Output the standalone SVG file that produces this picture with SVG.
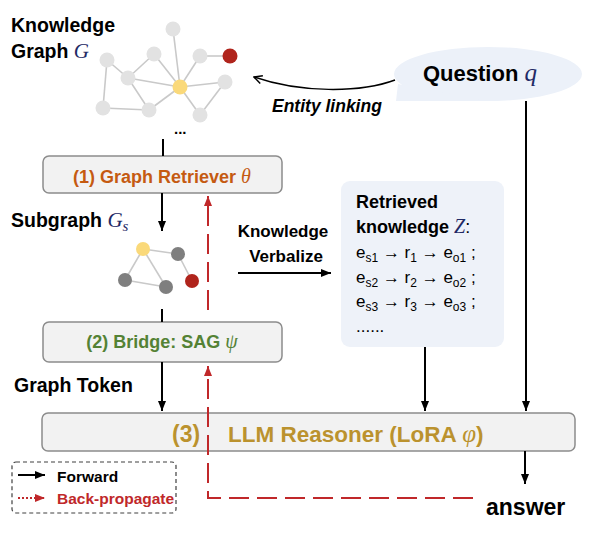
<svg xmlns="http://www.w3.org/2000/svg" width="590" height="544" viewBox="0 0 590 544">
<style>
.lbl{font-family:"Liberation Sans",Arial,sans-serif;font-weight:bold;fill:#000}
.math{font-family:"Liberation Serif","Times New Roman",serif;font-style:italic;font-weight:normal}
.box{fill:#f2f2f2;stroke:#8c8c8c;stroke-width:1.5}
.e{stroke:#c9c9c9;stroke-width:1.6;fill:none}
.ln{fill:#e2e2e2}
.gr{fill:#7f7f7f}
.yl{fill:#fad97a}
.rd{fill:#b0241c}
.fw{stroke:#000;stroke-width:2;fill:none}
.bp{stroke:#c0282a;stroke-width:2;fill:none;stroke-dasharray:20 8}
.reg{font-family:"Liberation Sans",Arial,sans-serif;font-size:17px;fill:#000}
</style>
<defs>
<marker id="ah" markerUnits="userSpaceOnUse" markerWidth="10" markerHeight="10" refX="10" refY="5" orient="auto"><path d="M0,1 L10,5 L0,9 z" fill="#000"/></marker>
<marker id="ahr" markerUnits="userSpaceOnUse" markerWidth="10" markerHeight="10" refX="10" refY="5" orient="auto"><path d="M0,1 L10,5 L0,9 z" fill="#c0282a"/></marker>
<marker id="open" markerUnits="userSpaceOnUse" markerWidth="10" markerHeight="10" refX="9" refY="5" orient="auto"><path d="M1,1 L9,5 L1,9" fill="none" stroke="#000" stroke-width="1.5"/></marker>
</defs>

<g id="kg">
<g class="e">
<line x1="173" y1="29" x2="180" y2="87"/>
<line x1="107" y1="60" x2="128" y2="78"/>
<line x1="107" y1="60" x2="103" y2="108"/>
<line x1="154" y1="54" x2="128" y2="78"/>
<line x1="154" y1="54" x2="180" y2="87"/>
<line x1="200" y1="56" x2="180" y2="87"/>
<line x1="200" y1="56" x2="230" y2="56"/>
<line x1="128" y1="78" x2="180" y2="87"/>
<line x1="128" y1="78" x2="149" y2="110"/>
<line x1="180" y1="87" x2="225" y2="82"/>
<line x1="180" y1="87" x2="149" y2="110"/>
<line x1="180" y1="87" x2="200" y2="115"/>
<line x1="103" y1="108" x2="149" y2="110"/>
<line x1="225" y1="82" x2="200" y2="115"/>
</g>
<circle class="ln" cx="173" cy="29" r="7.5"/>
<circle class="ln" cx="107" cy="60" r="7.5"/>
<circle class="ln" cx="154" cy="54" r="7.5"/>
<circle class="ln" cx="200" cy="56" r="7.5"/>
<circle class="rd" cx="230" cy="56" r="7.5"/>
<circle class="ln" cx="128" cy="78" r="7.5"/>
<circle class="yl" cx="180" cy="87" r="7.5"/>
<circle class="ln" cx="225" cy="82" r="7.5"/>
<circle class="ln" cx="103" cy="108" r="7.5"/>
<circle class="ln" cx="149" cy="110" r="7.5"/>
<circle class="ln" cx="200" cy="115" r="7.5"/>
<text class="lbl" x="174" y="134" font-size="15">...</text>
<text class="lbl" x="11" y="32" font-size="19.5">Knowledge</text>
<text class="lbl" x="11" y="58" font-size="19.5">Graph <tspan class="math" fill="#1f2a66" font-size="21">G</tspan></text>
</g>

<g id="question">
<ellipse cx="488" cy="74" rx="94" ry="27" fill="#ecf1f9"/>
<path d="M398,84 L396,101 L488,101 Z" fill="#ecf1f9"/>
<text class="lbl" x="423" y="81" font-size="22">Question <tspan class="math" fill="#1f2a66" font-size="25">q</tspan></text>
</g>

<g id="retriever">
<rect class="box" x="43" y="156" width="239" height="37" rx="6"/>
<text class="lbl" x="162" y="183" font-size="18" text-anchor="middle" style="fill:#c55a11">(1) Graph Retriever <tspan class="math" font-size="20">θ</tspan></text>
</g>

<g id="subgraph">
<g class="e">
<line x1="143" y1="249" x2="178" y2="254"/>
<line x1="143" y1="249" x2="125" y2="280"/>
<line x1="143" y1="249" x2="166" y2="287"/>
<line x1="125" y1="280" x2="166" y2="287"/>
<line x1="178" y1="254" x2="192" y2="281"/>
</g>
<circle class="yl" cx="143" cy="249" r="7"/>
<circle class="gr" cx="178" cy="254" r="7"/>
<circle class="gr" cx="125" cy="280" r="7"/>
<circle class="gr" cx="166" cy="287" r="7"/>
<circle class="rd" cx="192" cy="281" r="7"/>
<text class="lbl" x="11" y="227" font-size="19.5">Subgraph <tspan class="math" fill="#1f2a66" font-size="21">G</tspan><tspan class="math" fill="#1f2a66" font-size="15" dy="4">s</tspan></text>
</g>

<g id="bridge">
<rect class="box" x="43" y="322" width="239" height="40" rx="6"/>
<text class="lbl" x="162" y="348" font-size="18" text-anchor="middle" style="fill:#548235">(2) Bridge: SAG <tspan class="math" font-size="20">ψ</tspan></text>
<text class="lbl" x="14" y="392" font-size="19.5">Graph Token</text>
</g>

<g id="verbalize">
<text class="lbl" x="283" y="237" font-size="17" text-anchor="middle">Knowledge</text>
<text class="lbl" x="286" y="262" font-size="17" text-anchor="middle">Verbalize</text>
</g>

<g id="retrieved">
<rect x="341" y="181" width="163" height="166" rx="9" fill="#eef2f9"/>
<text class="lbl" x="356" y="208" font-size="18">Retrieved</text>
<text class="lbl" x="356" y="233" font-size="18">knowledge <tspan class="math" fill="#1f2a66" font-size="20">Z</tspan><tspan font-weight="normal">:</tspan></text>
<text class="reg" x="356" y="258">e<tspan font-size="12" dy="4">s1</tspan><tspan dy="-4"> → r</tspan><tspan font-size="12" dy="4">1</tspan><tspan dy="-4"> → e</tspan><tspan font-size="12" dy="4">o1</tspan><tspan dy="-4"> ;</tspan></text>
<text class="reg" x="356" y="283">e<tspan font-size="12" dy="4">s2</tspan><tspan dy="-4"> → r</tspan><tspan font-size="12" dy="4">2</tspan><tspan dy="-4"> → e</tspan><tspan font-size="12" dy="4">o2</tspan><tspan dy="-4"> ;</tspan></text>
<text class="reg" x="356" y="307">e<tspan font-size="12" dy="4">s3</tspan><tspan dy="-4"> → r</tspan><tspan font-size="12" dy="4">3</tspan><tspan dy="-4"> → e</tspan><tspan font-size="12" dy="4">o3</tspan><tspan dy="-4"> ;</tspan></text>
<text class="reg" x="356" y="332">......</text>
</g>

<g id="llm">
<rect class="box" x="42" y="413" width="533" height="38" rx="6"/>
<text class="lbl" x="172" y="442" font-size="23" style="fill:#bb922e">(3)</text>
<text class="lbl" x="228" y="442" font-size="22.5" style="fill:#bb922e">LLM Reasoner (LoRA <tspan class="math" font-size="25">φ</tspan>)</text>
</g>

<g id="answer">
<text class="lbl" x="486" y="515" font-size="23">answer</text>
</g>

<g id="legend">
<rect x="12" y="462" width="164" height="51" rx="4" fill="none" stroke="#404040" stroke-width="1.2" stroke-dasharray="4 3"/>
<line x1="18" y1="475" x2="45" y2="475" stroke="#000" stroke-width="2" marker-end="url(#ah)"/>
<text class="lbl" x="57" y="482" font-size="15.5">Forward</text>
<line x1="18" y1="498" x2="45" y2="498" stroke="#c0282a" stroke-width="2" stroke-dasharray="2 2" marker-end="url(#ahr)"/>
<text class="lbl" x="57" y="504" font-size="15.5" style="fill:#c0282a">Back-propagate</text>
</g>

<g id="connectors">
<line class="fw" x1="163" y1="139" x2="163" y2="156"/>
<line class="fw" x1="162" y1="193" x2="162" y2="231" marker-end="url(#ah)"/>
<line class="fw" x1="162" y1="309" x2="162" y2="322"/>
<line class="fw" x1="162" y1="362" x2="162" y2="411" marker-end="url(#ah)"/>
<line class="fw" x1="238" y1="273" x2="331" y2="273" marker-end="url(#ah)"/>
<line class="fw" x1="425" y1="347" x2="425" y2="411" marker-end="url(#ah)"/>
<line class="fw" x1="526" y1="101" x2="526" y2="411" marker-end="url(#ah)"/>
<line class="fw" x1="525" y1="451" x2="525" y2="484" marker-end="url(#ah)"/>
<path d="M395,80 C360,93 300,93 254,77" fill="none" stroke="#000" stroke-width="1.5" marker-end="url(#open)"/>
<text class="lbl" x="272" y="112" font-size="17.5" font-style="italic">Entity linking</text>
<path class="bp" d="M473,498 H208 V366" marker-end="url(#ahr)"/>
<path class="bp" d="M208,310 V196" marker-end="url(#ahr)"/>
</g>
</svg>
